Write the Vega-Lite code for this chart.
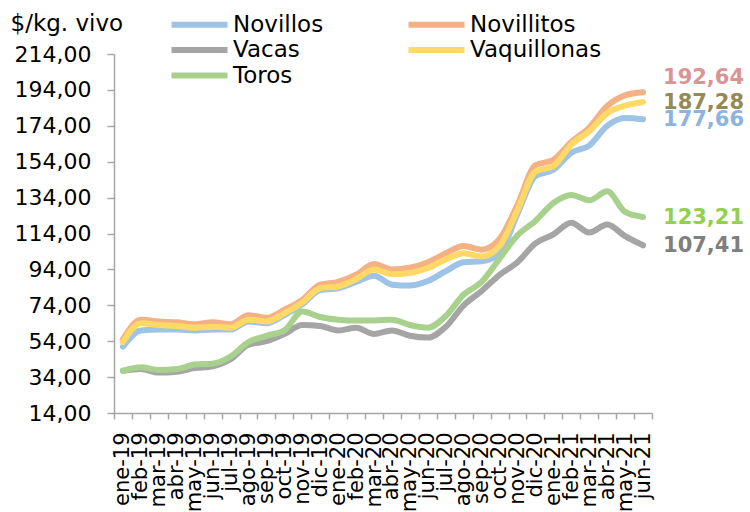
{
  "$schema": "https://vega.github.io/schema/vega-lite/v6.json",
  "width": 538,
  "height": 359,
  "autosize": {"type": "none"},
  "padding": {"left": 114, "top": 54, "right": 98, "bottom": 99},
  "config": {
    "locale": {"number": {"decimal": ",", "thousands": ".", "grouping": [3], "currency": ["$", ""]}},
    "view": {"stroke": null},
    "font": "DejaVu Sans",
    "axis": {"domainColor": "#a6a6a6", "tickColor": "#a6a6a6", "domainWidth": 1.5, "tickWidth": 1.5, "labelColor": "#000000", "labelFont": "DejaVu Sans", "titleFont": "DejaVu Sans"},
    "legend": {"labelFont": "DejaVu Sans"}
  },
  "data": {"values": [
    {"mes":"ene-19","serie":"Novillos","valor":51},{"mes":"feb-19","serie":"Novillos","valor":60},{"mes":"mar-19","serie":"Novillos","valor":60.5},{"mes":"abr-19","serie":"Novillos","valor":60.5},{"mes":"may-19","serie":"Novillos","valor":60},{"mes":"jun-19","serie":"Novillos","valor":60.5},{"mes":"jul-19","serie":"Novillos","valor":60.5},{"mes":"ago-19","serie":"Novillos","valor":65},{"mes":"sep-19","serie":"Novillos","valor":64},{"mes":"oct-19","serie":"Novillos","valor":68.5},{"mes":"nov-19","serie":"Novillos","valor":74.5},{"mes":"dic-19","serie":"Novillos","valor":82.5},{"mes":"ene-20","serie":"Novillos","valor":83.5},{"mes":"feb-20","serie":"Novillos","valor":87},{"mes":"mar-20","serie":"Novillos","valor":90.5},{"mes":"abr-20","serie":"Novillos","valor":85.5},{"mes":"may-20","serie":"Novillos","valor":85},{"mes":"jun-20","serie":"Novillos","valor":87.5},{"mes":"jul-20","serie":"Novillos","valor":93},{"mes":"ago-20","serie":"Novillos","valor":98},{"mes":"sep-20","serie":"Novillos","valor":98.5},{"mes":"oct-20","serie":"Novillos","valor":103},{"mes":"nov-20","serie":"Novillos","valor":125},{"mes":"dic-20","serie":"Novillos","valor":146},{"mes":"ene-21","serie":"Novillos","valor":149.5},{"mes":"feb-21","serie":"Novillos","valor":159},{"mes":"mar-21","serie":"Novillos","valor":163},{"mes":"abr-21","serie":"Novillos","valor":174},{"mes":"may-21","serie":"Novillos","valor":178.4},{"mes":"jun-21","serie":"Novillos","valor":177.66},
    {"mes":"ene-19","serie":"Novillitos","valor":55},{"mes":"feb-19","serie":"Novillitos","valor":66},{"mes":"mar-19","serie":"Novillitos","valor":65},{"mes":"abr-19","serie":"Novillitos","valor":64.5},{"mes":"may-19","serie":"Novillitos","valor":63.5},{"mes":"jun-19","serie":"Novillitos","valor":64.5},{"mes":"jul-19","serie":"Novillitos","valor":63.5},{"mes":"ago-19","serie":"Novillitos","valor":68.5},{"mes":"sep-19","serie":"Novillitos","valor":67},{"mes":"oct-19","serie":"Novillitos","valor":71.5},{"mes":"nov-19","serie":"Novillitos","valor":77},{"mes":"dic-19","serie":"Novillitos","valor":85.5},{"mes":"ene-20","serie":"Novillitos","valor":87},{"mes":"feb-20","serie":"Novillitos","valor":91},{"mes":"mar-20","serie":"Novillitos","valor":97},{"mes":"abr-20","serie":"Novillitos","valor":94},{"mes":"may-20","serie":"Novillitos","valor":95},{"mes":"jun-20","serie":"Novillitos","valor":98},{"mes":"jul-20","serie":"Novillitos","valor":103},{"mes":"ago-20","serie":"Novillitos","valor":107},{"mes":"sep-20","serie":"Novillitos","valor":105},{"mes":"oct-20","serie":"Novillitos","valor":111},{"mes":"nov-20","serie":"Novillitos","valor":130},{"mes":"dic-20","serie":"Novillitos","valor":152},{"mes":"ene-21","serie":"Novillitos","valor":155},{"mes":"feb-21","serie":"Novillitos","valor":165},{"mes":"mar-21","serie":"Novillitos","valor":173},{"mes":"abr-21","serie":"Novillitos","valor":185},{"mes":"may-21","serie":"Novillitos","valor":191},{"mes":"jun-21","serie":"Novillitos","valor":192.64},
    {"mes":"ene-19","serie":"Vacas","valor":37.5},{"mes":"feb-19","serie":"Vacas","valor":38.5},{"mes":"mar-19","serie":"Vacas","valor":36.5},{"mes":"abr-19","serie":"Vacas","valor":37},{"mes":"may-19","serie":"Vacas","valor":39},{"mes":"jun-19","serie":"Vacas","valor":40},{"mes":"jul-19","serie":"Vacas","valor":44},{"mes":"ago-19","serie":"Vacas","valor":52},{"mes":"sep-19","serie":"Vacas","valor":54},{"mes":"oct-19","serie":"Vacas","valor":58},{"mes":"nov-19","serie":"Vacas","valor":63},{"mes":"dic-19","serie":"Vacas","valor":62.5},{"mes":"ene-20","serie":"Vacas","valor":60},{"mes":"feb-20","serie":"Vacas","valor":61.5},{"mes":"mar-20","serie":"Vacas","valor":58},{"mes":"abr-20","serie":"Vacas","valor":60},{"mes":"may-20","serie":"Vacas","valor":57},{"mes":"jun-20","serie":"Vacas","valor":56},{"mes":"jul-20","serie":"Vacas","valor":62},{"mes":"ago-20","serie":"Vacas","valor":74},{"mes":"sep-20","serie":"Vacas","valor":82},{"mes":"oct-20","serie":"Vacas","valor":91},{"mes":"nov-20","serie":"Vacas","valor":98},{"mes":"dic-20","serie":"Vacas","valor":108.5},{"mes":"ene-21","serie":"Vacas","valor":113.5},{"mes":"feb-21","serie":"Vacas","valor":120},{"mes":"mar-21","serie":"Vacas","valor":114.5},{"mes":"abr-21","serie":"Vacas","valor":119},{"mes":"may-21","serie":"Vacas","valor":112.5},{"mes":"jun-21","serie":"Vacas","valor":107.41},
    {"mes":"ene-19","serie":"Vaquillonas","valor":53.5},{"mes":"feb-19","serie":"Vaquillonas","valor":64},{"mes":"mar-19","serie":"Vaquillonas","valor":63},{"mes":"abr-19","serie":"Vaquillonas","valor":62.5},{"mes":"may-19","serie":"Vaquillonas","valor":61.5},{"mes":"jun-19","serie":"Vaquillonas","valor":62},{"mes":"jul-19","serie":"Vaquillonas","valor":61.5},{"mes":"ago-19","serie":"Vaquillonas","valor":66},{"mes":"sep-19","serie":"Vaquillonas","valor":65},{"mes":"oct-19","serie":"Vaquillonas","valor":69.5},{"mes":"nov-19","serie":"Vaquillonas","valor":75.5},{"mes":"dic-19","serie":"Vaquillonas","valor":83.5},{"mes":"ene-20","serie":"Vaquillonas","valor":84.5},{"mes":"feb-20","serie":"Vaquillonas","valor":88.5},{"mes":"mar-20","serie":"Vaquillonas","valor":94},{"mes":"abr-20","serie":"Vaquillonas","valor":91.3},{"mes":"may-20","serie":"Vaquillonas","valor":92},{"mes":"jun-20","serie":"Vaquillonas","valor":94.8},{"mes":"jul-20","serie":"Vaquillonas","valor":99.5},{"mes":"ago-20","serie":"Vaquillonas","valor":103},{"mes":"sep-20","serie":"Vaquillonas","valor":101.2},{"mes":"oct-20","serie":"Vaquillonas","valor":107},{"mes":"nov-20","serie":"Vaquillonas","valor":127},{"mes":"dic-20","serie":"Vaquillonas","valor":148.5},{"mes":"ene-21","serie":"Vaquillonas","valor":151.5},{"mes":"feb-21","serie":"Vaquillonas","valor":163.5},{"mes":"mar-21","serie":"Vaquillonas","valor":171},{"mes":"abr-21","serie":"Vaquillonas","valor":181},{"mes":"may-21","serie":"Vaquillonas","valor":185.2},{"mes":"jun-21","serie":"Vaquillonas","valor":187.28},
    {"mes":"ene-19","serie":"Toros","valor":37.5},{"mes":"feb-19","serie":"Toros","valor":39.5},{"mes":"mar-19","serie":"Toros","valor":38},{"mes":"abr-19","serie":"Toros","valor":38.5},{"mes":"may-19","serie":"Toros","valor":41},{"mes":"jun-19","serie":"Toros","valor":41.5},{"mes":"jul-19","serie":"Toros","valor":45.5},{"mes":"ago-19","serie":"Toros","valor":53.5},{"mes":"sep-19","serie":"Toros","valor":57},{"mes":"oct-19","serie":"Toros","valor":60},{"mes":"nov-19","serie":"Toros","valor":70.5},{"mes":"dic-19","serie":"Toros","valor":67.5},{"mes":"ene-20","serie":"Toros","valor":66},{"mes":"feb-20","serie":"Toros","valor":65.5},{"mes":"mar-20","serie":"Toros","valor":65.5},{"mes":"abr-20","serie":"Toros","valor":66},{"mes":"may-20","serie":"Toros","valor":63},{"mes":"jun-20","serie":"Toros","valor":61.5},{"mes":"jul-20","serie":"Toros","valor":68},{"mes":"ago-20","serie":"Toros","valor":80},{"mes":"sep-20","serie":"Toros","valor":87},{"mes":"oct-20","serie":"Toros","valor":100},{"mes":"nov-20","serie":"Toros","valor":113},{"mes":"dic-20","serie":"Toros","valor":121},{"mes":"ene-21","serie":"Toros","valor":131},{"mes":"feb-21","serie":"Toros","valor":135.5},{"mes":"mar-21","serie":"Toros","valor":132.5},{"mes":"abr-21","serie":"Toros","valor":137.5},{"mes":"may-21","serie":"Toros","valor":126},{"mes":"jun-21","serie":"Toros","valor":123.21}
  ]},
  "layer": [
    {
      "mark": {"type": "line", "strokeWidth": 6, "interpolate": "monotone", "strokeCap": "round", "strokeJoin": "round"},
      "encoding": {
        "x": {"field": "mes", "type": "ordinal", "sort": null, "bandPosition": 0.5,
              "scale": {"type": "band", "paddingInner": 0, "paddingOuter": 0},
              "axis": {"title": null, "labelAngle": -90, "labelAlign": "right", "labelBaseline": "middle", "tickBand": "extent", "labelFontSize": 21, "tickSize": 6, "labelPadding": 13, "labelOverlap": false}},
        "y": {"field": "valor", "type": "quantitative",
              "scale": {"domain": [14, 214], "nice": false, "zero": false},
              "axis": {"values": [14, 34, 54, 74, 94, 114, 134, 154, 174, 194, 214], "tickCount": 20, "format": ".2f", "grid": false, "labelOverlap": false,
                       "title": "$/kg. vivo", "titleAngle": 0, "titleX": -104, "titleY": -31, "titleAlign": "left", "titleBaseline": "middle",
                       "titleFontSize": 23, "titleFontWeight": "normal", "titleColor": "#000000",
                       "labelFontSize": 22, "tickSize": 7, "labelPadding": 16}},
        "color": {"field": "serie", "type": "nominal", "sort": ["Novillos", "Novillitos", "Vacas", "Vaquillonas", "Toros"],
                  "scale": {"domain": ["Novillos", "Novillitos", "Vacas", "Vaquillonas", "Toros"],
                            "range": ["#9dc3e6", "#f4b183", "#a5a5a5", "#ffd966", "#a9d18e"]},
                  "legend": {"title": null, "orient": "none", "legendX": 54, "legendY": -41, "direction": "horizontal", "columns": 2,
                             "symbolType": "M-1,0H6", "symbolStrokeWidth": 6, "symbolSize": 256, "labelFontSize": 23, "labelColor": "#000000",
                             "columnPadding": 72, "rowPadding": 0.5, "labelOffset": 42}}
      }
    },
    {
      "transform": [{"filter": "datum.mes === 'jun-21' && datum.serie !== 'Novillitos'"}],
      "mark": {"type": "text", "align": "left", "baseline": "middle", "dx": 20, "dy": 1, "fontSize": 21, "fontWeight": "bold", "font": "DejaVu Sans"},
      "encoding": {
        "x": {"field": "mes", "type": "ordinal", "sort": null, "bandPosition": 0.5},
        "y": {"field": "valor", "type": "quantitative"},
        "text": {"field": "valor", "type": "quantitative", "format": ".2f"},
        "color": {"field": "serie", "type": "nominal",
                  "scale": {"domain": ["Novillos", "Novillitos", "Vacas", "Vaquillonas", "Toros"],
                            "range": ["#8db3e2", "#d99594", "#7f7f7f", "#948a54", "#92d050"]},
                  "legend": null}
      }
    },
    {
      "transform": [{"filter": "datum.mes === 'jun-21' && datum.serie === 'Novillitos'"}],
      "mark": {"type": "text", "align": "left", "baseline": "middle", "dx": 20, "dy": -14, "fontSize": 21, "fontWeight": "bold", "font": "DejaVu Sans", "color": "#d99594"},
      "encoding": {
        "x": {"field": "mes", "type": "ordinal", "sort": null, "bandPosition": 0.5},
        "y": {"field": "valor", "type": "quantitative"},
        "text": {"field": "valor", "type": "quantitative", "format": ".2f"}
      }
    }
  ],
  "resolve": {"scale": {"color": "independent"}}
}
